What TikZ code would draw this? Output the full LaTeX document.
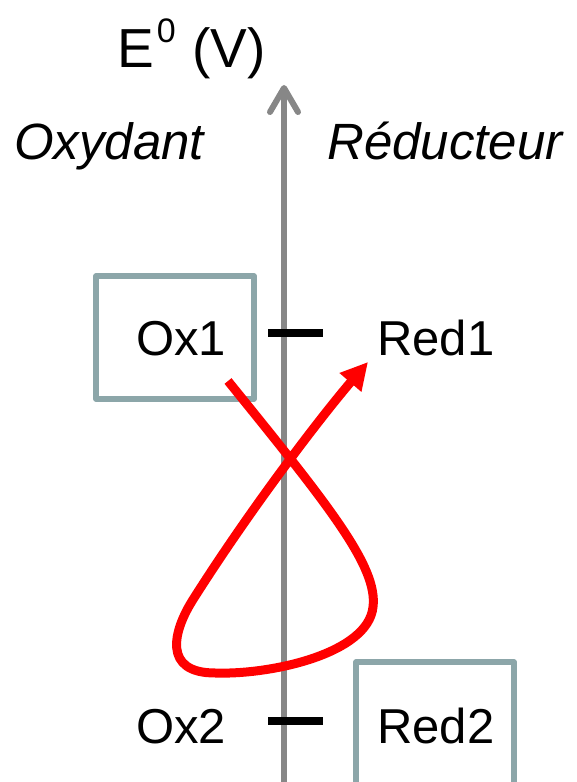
\documentclass[tikz,border=0pt]{standalone}
\usepackage{fontspec}
\setmainfont{Liberation Sans}
\usetikzlibrary{arrows.meta}
\definecolor{axisgray}{HTML}{878787}
\definecolor{boxcol}{HTML}{8CA6A9}
\definecolor{curvered}{HTML}{FF0000}
\tikzset{
  lbl/.style={inner sep=0pt, anchor=base west, font=\fontsize{49}{49}\selectfont},
  hdr/.style={inner sep=0pt, anchor=base west, font=\fontsize{51}{51}\selectfont\itshape},
  boxline/.style={draw=boxcol, line width=5.5pt, line join=round},
  tickmark/.style={draw=black, line width=8pt},
}
\begin{document}
\begin{tikzpicture}[x=1pt,y=1pt]
\useasboundingbox (0,0) rectangle (576,782);
\begin{scope}
\clip (0,0) rectangle (576,782);
% axis
\coordinate (axbot) at (284,-5);
\coordinate (axtop) at (284,697);
\draw[axisgray, line width=6pt, -{Straight Barb[length=24pt,width=28pt,round]}] (axbot) -- (axtop);
% header labels
\node[inner sep=0pt, anchor=base west, font=\fontsize{55}{55}\selectfont] (e0) at (117,714) {E\kern3pt\raisebox{25pt}{\fontsize{34}{34}\selectfont 0}\kern1pt{} (V)};
\node[hdr] (oxyd) at (14,622) {Oxydant};
\node[hdr] (reduc) at (327,622) {Réducteur};
% box around Ox1
\node[boxline, rectangle, minimum width=158pt, minimum height=123pt, inner sep=0pt] (box1) at (175,444.5) {};
% box around Red2 (open at bottom)
\coordinate (b2a) at (356,-10);
\coordinate (b2b) at (356,120);
\coordinate (b2c) at (514,120);
\coordinate (b2d) at (514,-10);
\draw[boxline] (b2a) -- (b2b) -- (b2c) -- (b2d);
% ticks
\coordinate (t1l) at (268,449); \coordinate (t1r) at (323,449);
\coordinate (t2l) at (268,61);  \coordinate (t2r) at (323,61);
\draw[tickmark] (t1l) -- (t1r);
\draw[tickmark] (t2l) -- (t2r);
% labels
\node[lbl] (ox1) at (136,426) {Ox1};
\node[lbl] (red1) at (377,426) {Red1};
\node[lbl] (ox2) at (136,38) {Ox2};
\node[lbl] (red2) at (377,38) {Red2};
% red loop arrow
\coordinate (cstart) at (228,401);
\coordinate (cright) at (373,175);
\coordinate (cbot) at (215,109);
\coordinate (cleft) at (194,184);
\coordinate (ctip) at (368,420);
\draw[curvered, line width=9pt, line join=round, -{Triangle[length=27pt,width=27pt]}]
  (cstart) .. controls (330,275) and (378,215) .. (cright)
  .. controls (368,128) and (270,107) .. (cbot)
  .. controls (163,109) and (172,150) .. (cleft)
  .. controls (255,280) and (325,370) .. (ctip);
\end{scope}
\end{tikzpicture}
\end{document}
